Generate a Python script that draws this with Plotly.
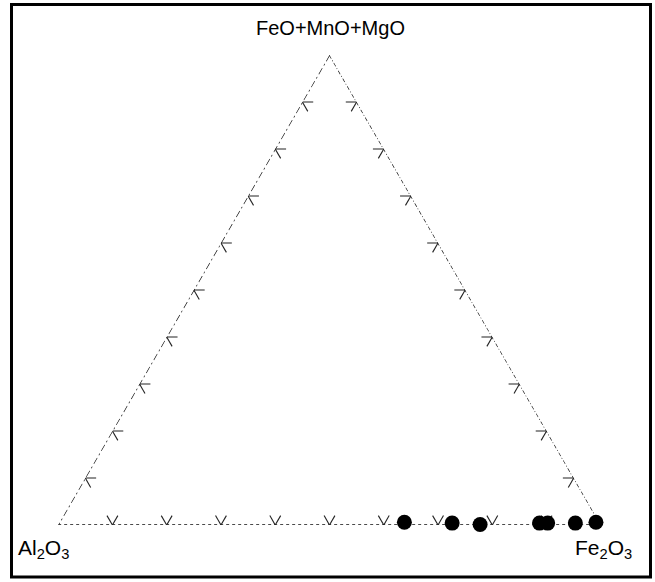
import plotly.graph_objects as go

# Data (percent): A = FeO+MnO+MgO, B = Al2O3, C = Fe2O3
a_vals = [0.6, 0.4, 0.1, 0.4, 0.4, 0.4, 0.6]
c_vals = [63.5, 72.4, 77.7, 88.5, 90.0, 95.1, 98.8]
b_vals = [round(100 - a - c, 2) for a, c in zip(a_vals, c_vals)]

tick_vals = [10, 20, 30, 40, 50, 60, 70, 80, 90]
apex_label = "FeO+MnO+MgO"
left_label = "Al<sub>2</sub>O<sub>3</sub>"
right_label = "Fe<sub>2</sub>O<sub>3</sub>"

W, H = 655, 582
ML, MR, MT, MB = 57, 53, 55, 57
PW, PH = W - ML - MR, H - MT - MB


def px(x):
    return (x - ML) / PW


def py(y):
    return (H - MB - y) / PH


fig = go.Figure()

edge_color = "#111111"
# triangle edges
fig.add_trace(go.Scatterternary(a=[100, 0], b=[0, 100], c=[0, 0], mode="lines",
                                line=dict(color=edge_color, width=1.3, dash="7px,3px,2px,3px"),
                                hoverinfo="skip", showlegend=False))
fig.add_trace(go.Scatterternary(a=[100, 0], b=[0, 0], c=[0, 100], mode="lines",
                                line=dict(color=edge_color, width=1.3, dash="4px,2px,1px,2px"),
                                hoverinfo="skip", showlegend=False))
fig.add_trace(go.Scatterternary(a=[0, 0], b=[100, 0], c=[0, 100], mode="lines",
                                line=dict(color=edge_color, width=1.3, dash="dot"),
                                hoverinfo="skip", showlegend=False))

# tick marks (two arms each)
d = 2.0
ta, tb, tc = [], [], []
for t in tick_vals:
    # bottom edge: a=0, b=100-t, c=t
    ta += [0, d, None, 0, d, None]
    tb += [100 - t, 100 - t, None, 100 - t, 100 - t - d, None]
    tc += [t, t - d, None, t, t, None]
    # left edge: c=0, a=t
    ta += [t, t, None, t, t - d, None]
    tb += [100 - t, 100 - t - d, None, 100 - t, 100 - t, None]
    tc += [0, d, None, 0, d, None]
    # right edge: b=0, a=t
    ta += [t, t, None, t, t - d, None]
    tb += [0, d, None, 0, d, None]
    tc += [100 - t, 100 - t - d, None, 100 - t, 100 - t, None]
fig.add_trace(go.Scatterternary(a=ta, b=tb, c=tc, mode="lines",
                                line=dict(color="#222", width=1.1),
                                connectgaps=False, hoverinfo="skip", showlegend=False))

# data points
fig.add_trace(go.Scatterternary(a=a_vals, b=b_vals, c=c_vals, mode="markers",
                                marker=dict(color="black", size=15, line=dict(width=0)),
                                cliponaxis=False, showlegend=False))

hidden = dict(showline=False, showgrid=False, showticklabels=False, ticks="",
              title=dict(text=""))
fig.update_layout(
    width=W, height=H,
    margin=dict(l=ML, r=MR, t=MT, b=MB),
    paper_bgcolor="white",
    ternary=dict(sum=100, bgcolor="white",
                 domain=dict(x=[0, 1], y=[0, 1]),
                 aaxis=hidden, baxis=hidden, caxis=hidden),
    font=dict(family="Liberation Sans, Arial, sans-serif", color="black"),
    showlegend=False,
)

fig.add_annotation(x=px(330), y=py(28), xref="paper", yref="paper", text=apex_label,
                   showarrow=False, font=dict(size=20), xanchor="center", yanchor="middle")
fig.add_annotation(x=px(43), y=py(549), xref="paper", yref="paper", text=left_label,
                   showarrow=False, font=dict(size=21), xanchor="center", yanchor="middle")
fig.add_annotation(x=px(603), y=py(549), xref="paper", yref="paper", text=right_label,
                   showarrow=False, font=dict(size=21), xanchor="center", yanchor="middle")

# outer frame
fig.add_shape(type="rect", xref="paper", yref="paper",
              x0=px(11.5), x1=px(650.5), y0=py(577), y1=py(4.5),
              line=dict(color="black", width=3), fillcolor="rgba(0,0,0,0)")

fig.write_html("out.html", config={"displayModeBar": False},
               post_script="document.body.style.margin='0';document.body.style.overflow='hidden';")
